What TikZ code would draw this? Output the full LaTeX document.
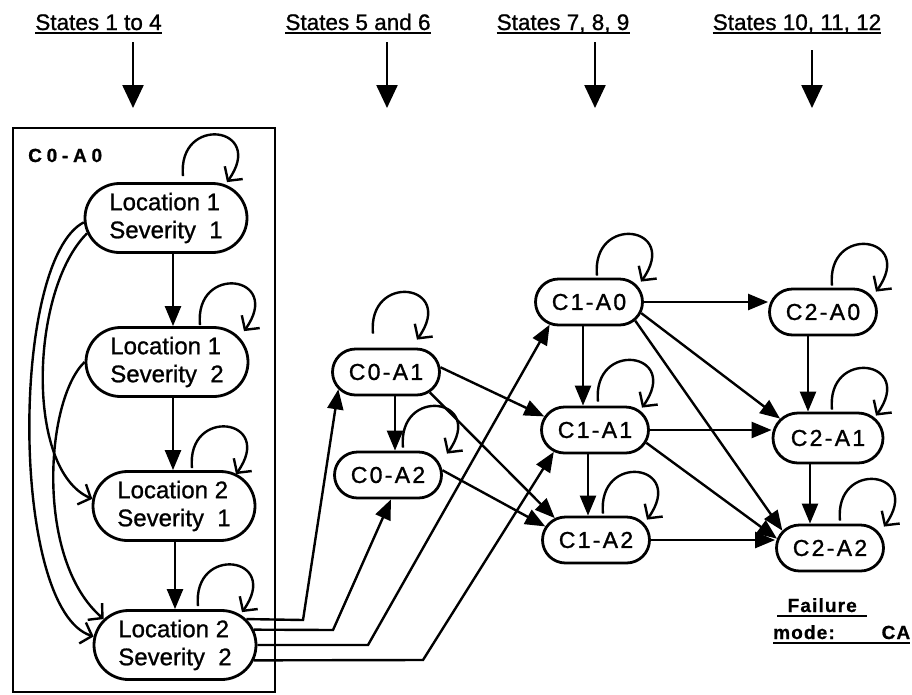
\documentclass[tikz,border=0pt]{standalone}
\usepackage{fontspec}
\setmainfont[FakeBold=1]{Liberation Sans}
\newfontfamily\cfont[LetterSpace=10,FakeBold=1.2]{Liberation Sans}
\newfontfamily\boxfont[LetterSpace=25,FakeBold=1]{Liberation Sans Bold}
\newfontfamily\failfont[LetterSpace=6,FakeBold=0.8]{Liberation Sans Bold}
\usetikzlibrary{shapes.misc,arrows.meta,calc}
\tikzset{
 lsnode/.style={draw, rounded rectangle, line width=2.8pt, inner sep=0pt, minimum width=162pt, minimum height=69pt, align=left, font=\fontsize{24}{28}\selectfont},
 cnode/.style={draw, rounded rectangle, line width=2.8pt, inner sep=0pt, minimum width=107pt, minimum height=46pt, font=\fontsize{23}{26}\selectfont\cfont},
 arr/.style={line width=2.4pt, -{Triangle[length=20pt,width=16pt]}},
 toparr/.style={line width=2.4pt, -{Triangle[length=23pt,width=21pt]}},
 barb/.style={line width=2.4pt, -{Straight Barb[length=10pt,width=22pt,line width=2.4pt]}},
 lab/.style={inner sep=0pt, anchor=base, font=\fontsize{22.5}{26}\selectfont},
 ul/.style={line width=2pt},
 failtxt/.style={inner sep=0pt, anchor=base west, font=\fontsize{19}{22}\selectfont\failfont},
}
\newcommand\sloop[3]{%
  \coordinate (#1-ls) at ($(#1.north)+(#2,#3)$);
  \draw[barb] (#1-ls) .. controls ($(#1-ls)+(-6,-62)$) and ($(#1-ls)+(84,-50)$) .. ($(#1-ls)+(44,6)$);}
\begin{document}
\begin{tikzpicture}[x=1pt,y=-1pt]
\useasboundingbox (0,0) rectangle (912,694);
% top labels
\node[lab] (t1) at (98.5,30) {States 1 to 4};
\node[lab] (t2) at (358,30) {States 5 and 6};
\node[lab] (t3) at (563,30) {States 7, 8, 9};
\node[lab] (t4) at (797,30) {States 10, 11, 12};
\foreach \t in {t1,t2,t3,t4} \draw[ul] ([yshift=-2.5pt]\t.base west) -- ([yshift=-2.5pt]\t.base east);
\coordinate (a1) at (133,42);  \coordinate (a1e) at (133,108);
\coordinate (a2) at (387,42);  \coordinate (a2e) at (387,108);
\coordinate (a3) at (595,42);  \coordinate (a3e) at (595,108);
\coordinate (a4) at (812,50);  \coordinate (a4e) at (812,108);
\draw[toparr] (a1) -- (a1e);
\draw[toparr] (a2) -- (a2e);
\draw[toparr] (a3) -- (a3e);
\draw[toparr] (a4) -- (a4e);
% box
\node[draw, line width=1.3pt, inner sep=0pt, minimum width=262pt, minimum height=564pt] (box) at (144,410) {};
\node[inner sep=0pt, anchor=base west, font=\fontsize{19}{22}\selectfont\boxfont] (c00) at (28,162) {C0-A0};
% state nodes
\node[lsnode] (LS11) at (166,218) {Location 1\\Severity\ \ 1};
\node[lsnode] (LS12) at (167,362) {Location 1\\Severity\ \ 2};
\node[lsnode] (LS21) at (174,506) {Location 2\\Severity\ \ 1};
\node[lsnode] (LS22) at (175,645) {Location 2\\Severity\ \ 2};
\node[cnode] (C0A1) at (386,372) {C0-A1};
\node[cnode] (C0A2) at (388,475) {C0-A2};
\node[cnode] (C1A0) at (589,302) {C1-A0};
\node[cnode] (C1A1) at (595,430) {C1-A1};
\node[cnode] (C1A2) at (596,540) {C1-A2};
\node[cnode] (C2A0) at (823,312) {C2-A0};
\node[cnode, minimum width=110pt, minimum height=50pt] (C2A1) at (828,438) {C2-A1};
\node[cnode] (C2A2) at (830,548) {C2-A2};
% self loops
\sloop{LS11}{17}{-6}
\sloop{LS12}{33}{-1}
\sloop{LS21}{18}{-2}
\sloop{LS22}{23}{-3}
\sloop{C0A1}{-13}{-14}
\sloop{C0A2}{15}{-3}
\sloop{C1A0}{8}{-2}
\sloop{C1A1}{3}{-4}
\sloop{C1A2}{7}{-2}
\sloop{C2A0}{9}{-2}
\sloop{C2A1}{4}{-2}
\sloop{C2A2}{10}{-3}
% inside box
\draw[arr] ([xshift=7pt]LS11.south) -- ([xshift=6pt]LS12.north);
\draw[arr] ([xshift=6pt]LS12.south) -- ([xshift=-1pt]LS21.north);
\draw[arr] ([xshift=1pt]LS21.south) -- (LS22.north);
\draw[barb] (LS11.183) .. controls (10,260) and (10,610) .. (LS22.174);
\draw[barb] (LS11.191) .. controls (30,290) and (25,470) .. (LS21.175);
\draw[barb] (LS12.180) .. controls (45,400) and (35,560) .. (LS22.160);
% from LS22
\coordinate (b1) at (303,620);
\coordinate (b2) at (333,630);
\coordinate (b3) at (368,645);
\coordinate (b4) at (423,660);
\draw[arr] (LS22.20) -- (b1) -- (C0A1.200);
\draw[arr] (LS22.11) -- (b2) -- ([xshift=3pt]C0A2.south);
\draw[arr] (LS22.0) -- (b3) -- (C1A0.210);
\draw[arr] (LS22.-11) -- (b4) -- (C1A1.208);
% middle
\draw[arr] ([xshift=9pt]C0A1.south) -- ([xshift=7pt]C0A2.north);
\draw[arr] (C0A1.5) -- (C1A1.165);
\draw[arr] (C0A1.-25) -- (C1A2.152);
\draw[arr] (C0A2.5) -- (C1A2.165);
% right
\draw[arr] ([xshift=-6pt]C1A0.south) -- ([xshift=-12pt]C1A1.north);
\draw[arr] ([xshift=-7pt]C1A1.south) -- ([xshift=-8pt]C1A2.north);
\draw[arr] ([xshift=-15pt]C2A0.south) -- ([xshift=-20pt]C2A1.north);
\draw[arr] ([xshift=-18pt]C2A1.south) -- ([xshift=-20pt]C2A2.north);
\draw[arr] (C1A0.east) -- (C2A0.west |- C1A0.east);
\draw[arr] (C1A1.east) -- (C2A1.west |- C1A1.east);
\draw[arr] (C1A2.east) -- (C2A2.west |- C1A2.east);
\draw[arr] (C1A0.-12) -- (C2A1.158);
\draw[arr] (C1A0.-22) -- (C2A2.160);
\draw[arr] (C1A1.-14) -- (C2A2.170);
% failure mode
\node[failtxt] (f1) at (777,612) {\hbox to 90pt{\hfil Failure\hfil}};
\node[failtxt] (f2) at (773,639) {\hbox to 137pt{mode:\hfil CA}};
\draw[ul] ([yshift=-4pt]f1.base west) -- ([yshift=-4pt]f1.base east);
\draw[ul] ([yshift=-4pt]f2.base west) -- ([yshift=-4pt]f2.base east);
\end{tikzpicture}
\end{document}
